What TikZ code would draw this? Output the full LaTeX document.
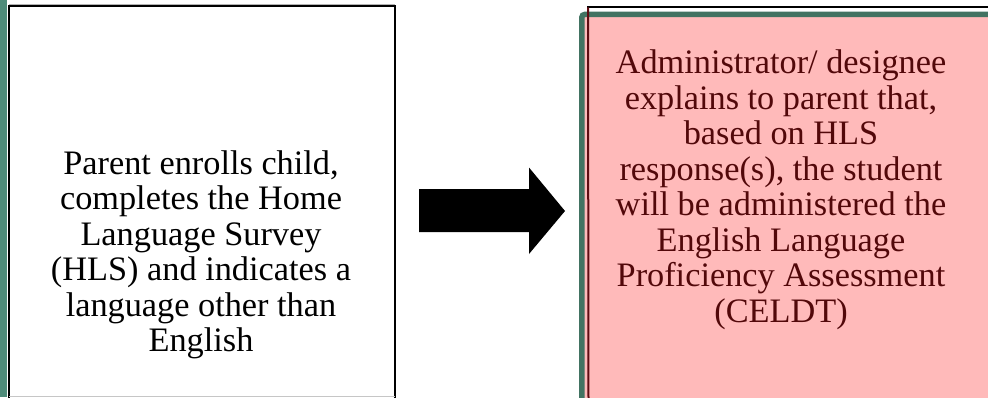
\documentclass[tikz,border=0pt]{standalone}
\usepackage{fontspec}
\setmainfont{Liberation Serif}
\definecolor{stripgreen}{RGB}{78,140,122}
\definecolor{framegreen}{RGB}{66,115,98}
\definecolor{boxpink}{RGB}{255,186,186}
\definecolor{darkred}{RGB}{82,8,10}
\definecolor{edgered}{RGB}{95,12,18}
\tikzset{
  bodytext/.style={align=center, inner sep=0pt,
    font=\fontsize{34.3}{35.5}\selectfont},
  frameline/.style={line width=2.5pt, black},
}
\begin{document}
\begin{tikzpicture}[x=1pt, y=1pt]
\useasboundingbox (0,0) rectangle (988,397);
\begin{scope}
\clip (0,0) rectangle (988,397);

% green strip along the left margin
\fill[stripgreen] (0,0) rectangle (6.5,397);

% left box: open frame, thin grey base
\node[minimum width=385.5pt, minimum height=389.7pt, inner sep=0pt, anchor=south west]
  (leftbox) at (9,1) {};
\draw[gray!60, line width=1.2pt] (leftbox.north west) ++(0,1.6) -- ++(385.5,0);
\draw[frameline] (leftbox.south west) -- ++(0,-3) |- (leftbox.north east) -- ++(0,-392);
\draw[gray!45, line width=1pt] (leftbox.south west) -- (leftbox.south east);
\node[bodytext] (lefttext) at (201,142)
  {Parent enrolls child,\\completes the Home\\Language Survey\\(HLS) and indicates a\\language other than\\English};

% block arrow between the boxes
\coordinate (arrowtail) at (419,186.5);
\fill[black] (arrowtail) ++(0,21.5) -- ++(110,0) -- ++(0,21.5) -- (565,186)
  -- (529,143) -- (529,165) -- (419,165) -- cycle;

% right box: black frame behind, green rounded frame with pink fill
\coordinate (rightcorner) at (588,389.5);
\draw[black, line width=2pt] (rightcorner) ++(0,-20) -- (rightcorner) -- ++(420,0);
\draw[framegreen, fill=boxpink, line width=5.5pt, rounded corners=3pt]
  (581.8,-10) rectangle (1000,382.6);
\draw[edgered, line width=2pt] (588.5,-5) -- (rightcorner);
\node[bodytext, text=darkred] (righttext) at (781,207.5)
  {Administrator/ designee\\explains to parent that,\\based on HLS\\response(s), the student\\will be administered the\\English Language\\Proficiency Assessment\\(CELDT)};
\end{scope}
\end{tikzpicture}
\end{document}
